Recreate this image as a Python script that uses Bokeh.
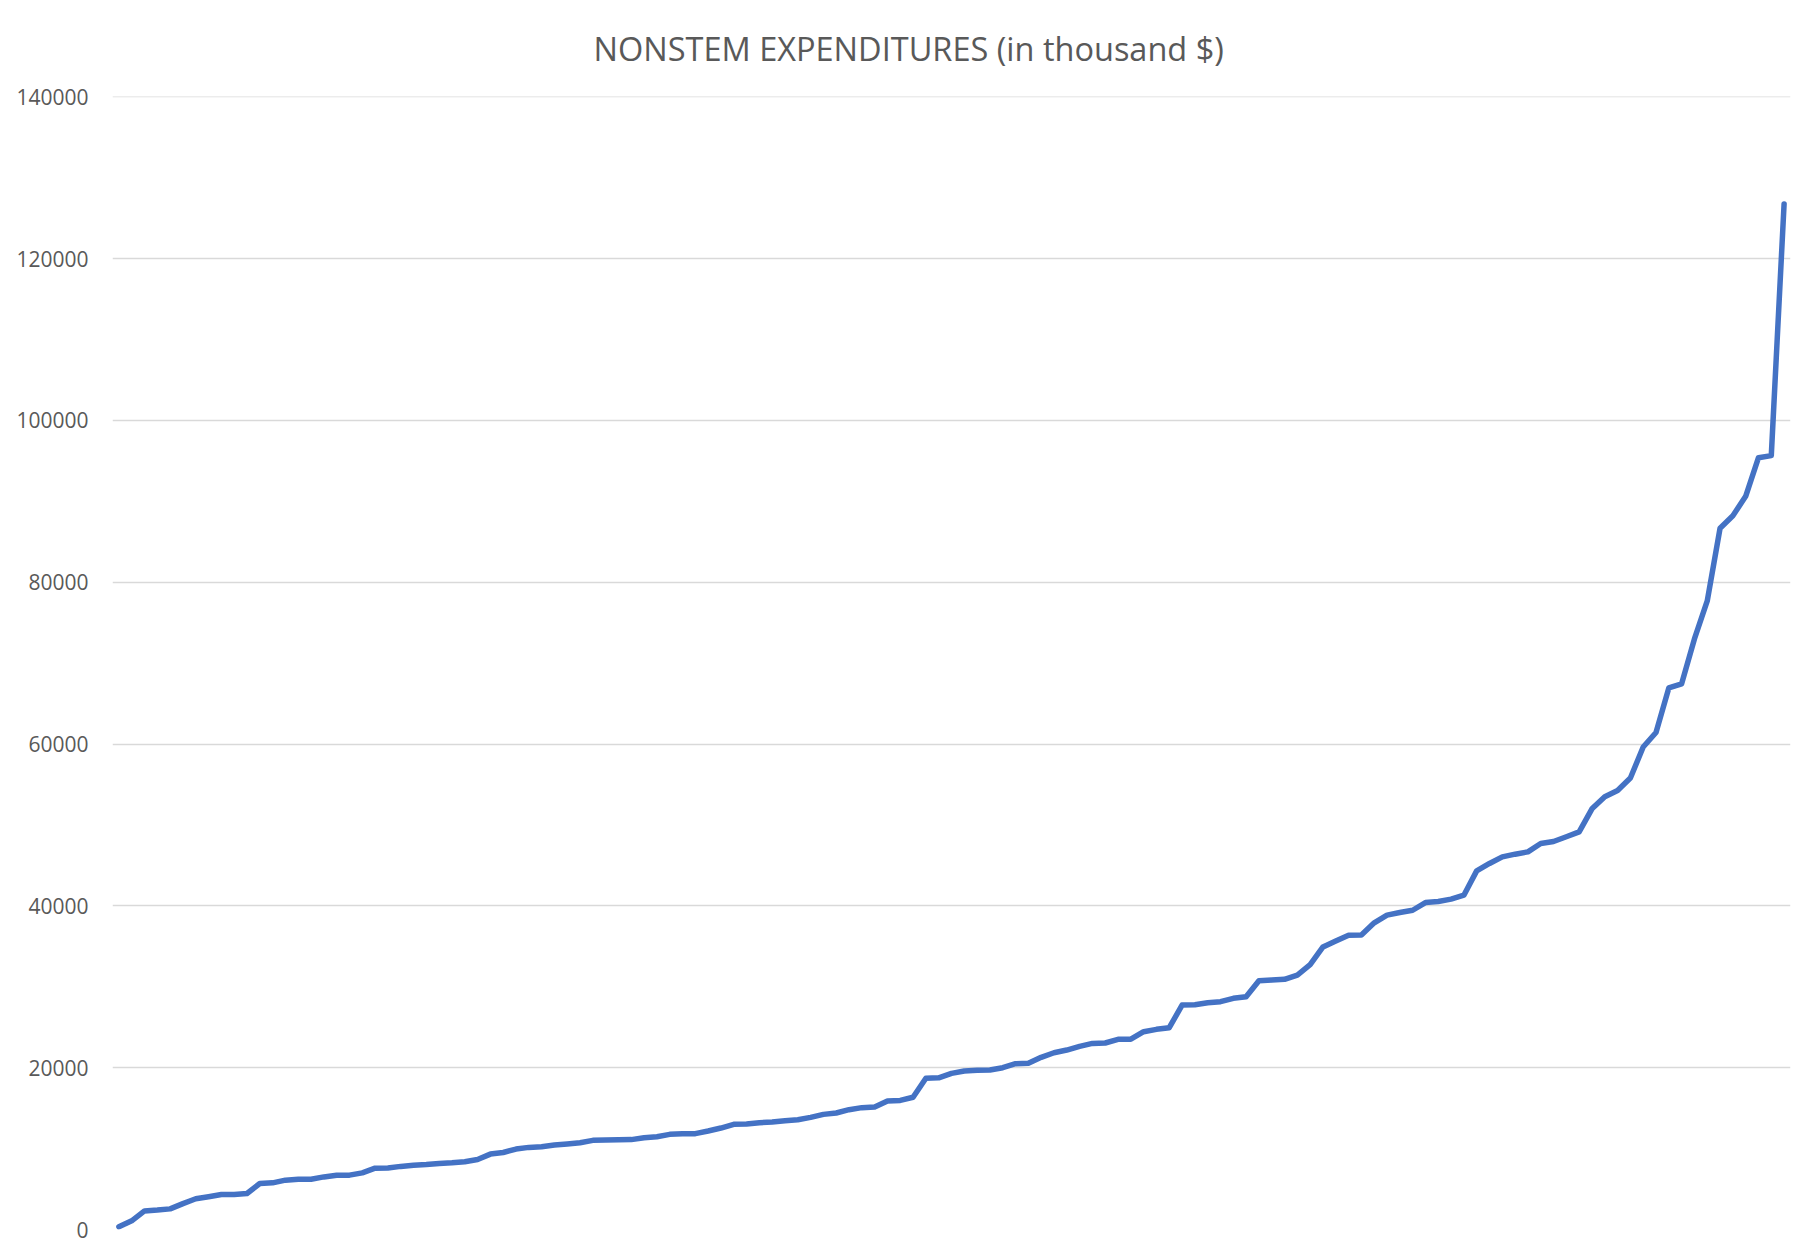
from bokeh.plotting import figure
from bokeh.models import ColumnDataSource, BasicTickFormatter, FixedTicker, Range1d
from bokeh.embed import file_html
from bokeh.resources import INLINE

title_text = "NONSTEM EXPENDITURES (in thousand $)"

expenditures = [
    330, 1070, 2300, 2400, 2550, 3200, 3800, 4050, 4330, 4330,
    4450, 5680, 5770, 6100, 6200, 6220, 6500, 6700, 6720, 7000,
    7580, 7600, 7800, 7950, 8030, 8160, 8240, 8370, 8650, 9320,
    9520, 9940, 10150, 10230, 10440, 10570, 10730, 11020, 11060, 11100,
    11110, 11350, 11470, 11760, 11840, 11850, 12170, 12540, 13000, 13040,
    13200, 13290, 13450, 13570, 13860, 14230, 14400, 14810, 15060, 15140,
    15880, 15950, 16350, 18700, 18750, 19300, 19600, 19670, 19710, 20000,
    20490, 20540, 21280, 21850, 22180, 22640, 23000, 23050, 23500, 23520,
    24450, 24740, 24940, 27740, 27780, 28030, 28160, 28570, 28770, 30750,
    30830, 30920, 31450, 32750, 34930, 35670, 36370, 36400, 37900, 38850,
    39180, 39460, 40410, 40540, 40830, 41320, 44330, 45240, 46060, 46390,
    46680, 47710, 47960, 48540, 49150, 52000, 53500, 54260, 55800, 59640,
    61430, 66940, 67450, 73000, 77690, 86680, 88220, 90620, 95400, 95650,
    126760,
]
positions = list(range(1, len(expenditures) + 1))
y_ticks = [0, 20000, 40000, 60000, 80000, 100000, 120000, 140000]

source = ColumnDataSource(data=dict(x=positions, y=expenditures))

W, H = 1803, 1244
p = figure(
    width=W, height=H,
    output_backend="svg", toolbar_location=None,
    x_range=Range1d(0.5, len(expenditures) + 0.5),
    y_range=Range1d(0, 140040),
    min_border_left=112, min_border_right=13,
    min_border_top=96, min_border_bottom=15,
)

p.title.text = title_text
p.title.align = "left"
p.title.vertical_align = "top"
p.title.text_font = "Open Sans"
p.title.text_font_size = "32.5px"
p.title.text_font_style = "normal"
p.title.text_color = "#595959"
p.title.standoff = 47
p.title.offset = 481

p.line("x", "y", source=source, line_color="#4472C4", line_width=5.5,
       line_cap="round", line_join="round")

p.xaxis.visible = False
p.xgrid.visible = False
p.ygrid.grid_line_color = "#d9d9d9"
p.ygrid.grid_line_width = 1.3

ya = p.yaxis[0]
ya.ticker = FixedTicker(ticks=y_ticks)
ya.formatter = BasicTickFormatter(use_scientific=False)
ya.axis_line_color = None
ya.major_tick_line_color = None
ya.minor_tick_line_color = None
ya.major_tick_out = 0
ya.major_tick_in = 0
ya.major_label_standoff = 24
ya.major_label_text_font = "Open Sans"
ya.major_label_text_font_size = "21px"
ya.major_label_text_color = "#595959"

p.outline_line_color = None
p.background_fill_color = "white"
p.border_fill_color = "white"

open("out.html", "w").write(file_html(p, INLINE))
